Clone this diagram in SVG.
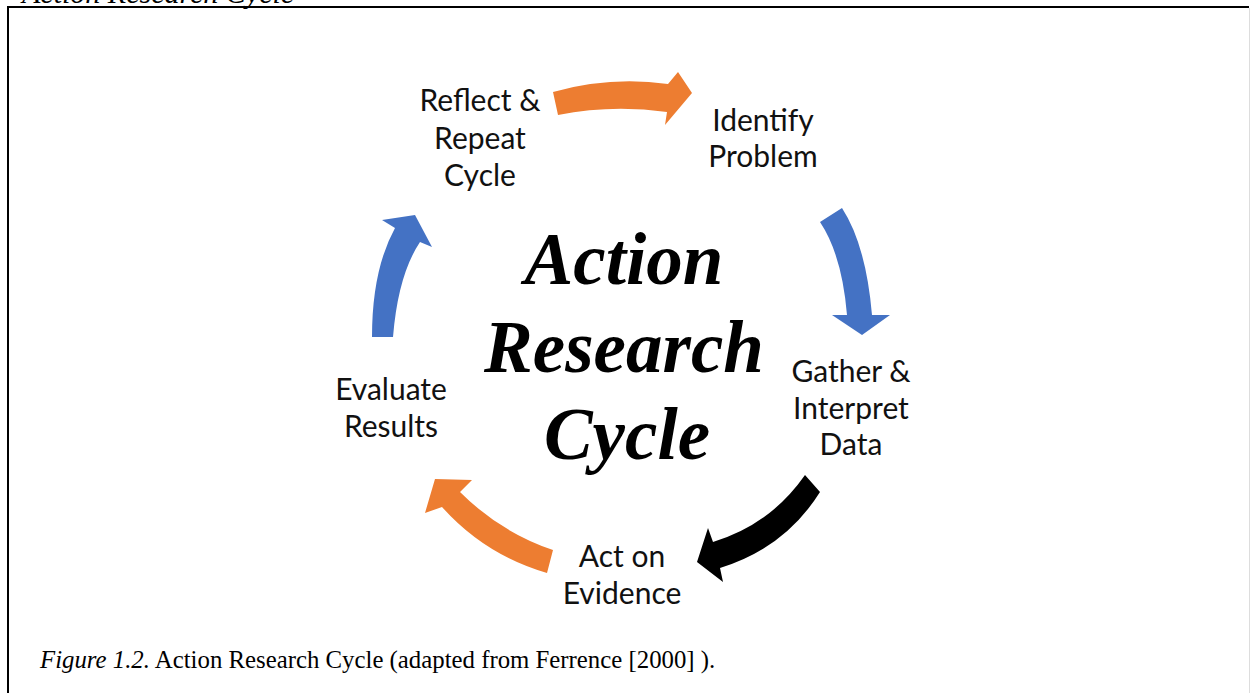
<svg xmlns="http://www.w3.org/2000/svg" width="1252" height="693" viewBox="0 0 1252 693">
<style>
.lbl{font-family:Lato,"Open Sans","Liberation Sans",sans-serif;font-size:30px;fill:#111;text-anchor:middle}
.title{font-family:"Liberation Serif","Times New Roman",serif;font-size:73px;font-weight:bold;font-style:italic;fill:#000;text-anchor:middle}
.cap{font-family:"Liberation Serif","Times New Roman",serif;font-size:24.8px;fill:#000}
.orange{fill:#ED7D31}
.blue{fill:#4472C4}
.black{fill:#000}
</style>
<rect width="1252" height="693" fill="#fff"/>
<text class="cap" x="22" y="3" style="font-style:italic;font-size:30px">Action Research Cycle</text>
<path d="M8,693 L8,7 L1249,7" fill="none" stroke="#000" stroke-width="2"/>
<line x1="1249.5" y1="8" x2="1249.5" y2="693" stroke="#ddd" stroke-width="1"/>
<g id="connectors">
<path class="orange" d="M553,92 Q610,76 668,84 L678,72 L692,93 L665,125 L667,112 Q612,104 558,115 Z"/>
<path class="blue" d="M820,222 L842,208 Q866,245 872,315 L890,315 L862,335 L832,315 L847,315 Q842,255 820,222 Z"/>
<path class="black" d="M805,475 L820,492 Q785,548 720,568 L723,582 L697,562 L708,528 L713,542 Q770,525 805,475 Z"/>
<path class="orange" d="M553,550 Q500,532 460,492 L472,480 L435,479 L425,513 L442,507 Q485,555 547,573 Z"/>
<path class="blue" d="M372,337 Q372,270 395,228 L382,220 L415,215 L432,247 L420,242 Q398,275 393,337 Z"/>
</g>
<g id="title">
<text class="title" x="624" y="284">Action</text>
<text class="title" x="624" y="372">Research</text>
<text class="title" x="627" y="459">Cycle</text>
</g>
<g id="reflect">
<text class="lbl" x="480" y="111">Reflect &amp;</text>
<text class="lbl" x="480" y="149">Repeat</text>
<text class="lbl" x="480" y="186">Cycle</text>
</g>
<g id="identify">
<text class="lbl" x="763" y="131">Identify</text>
<text class="lbl" x="763" y="167">Problem</text>
</g>
<g id="gather">
<text class="lbl" x="851" y="382">Gather &amp;</text>
<text class="lbl" x="851" y="419">Interpret</text>
<text class="lbl" x="851" y="455">Data</text>
</g>
<g id="act">
<text class="lbl" x="622" y="567">Act on</text>
<text class="lbl" x="622" y="604">Evidence</text>
</g>
<g id="evaluate">
<text class="lbl" x="391" y="400">Evaluate</text>
<text class="lbl" x="391" y="437">Results</text>
</g>
<text class="cap" x="40" y="668"><tspan font-style="italic">Figure 1.2.</tspan> Action Research Cycle (adapted from Ferrence [2000] ).</text>
</svg>
